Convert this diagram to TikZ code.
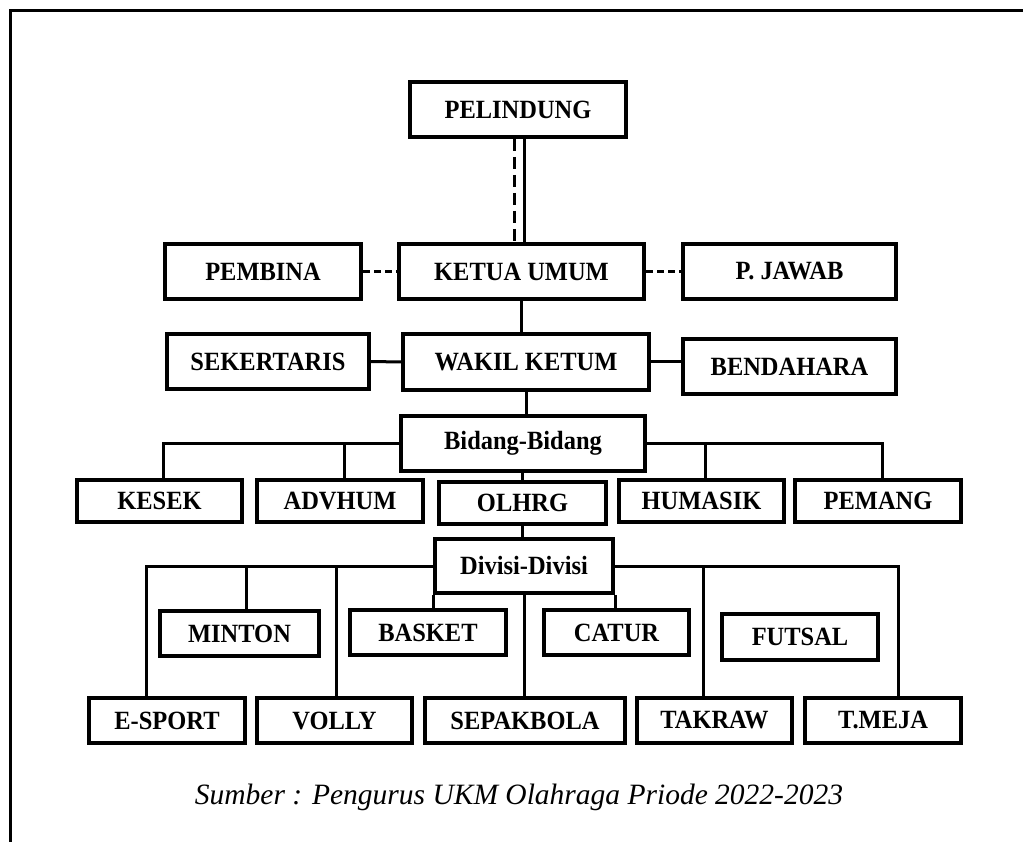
\documentclass[tikz,border=0pt]{standalone}
\usepackage{fontspec}
\setmainfont{Liberation Serif}
\newfontfamily\boxfont[FakeStretch=0.93]{Liberation Serif}
\begin{document}
\begin{tikzpicture}[x=1pt,y=-1pt,
  box/.style={draw, line width=4pt, inner sep=0pt, fill=white,
    font=\boxfont\fontsize{26.3}{28}\selectfont\bfseries},
  conn/.style={line width=3pt},
  dconnh/.style={line width=3pt, dash pattern=on 7pt off 4pt},
  dconnv/.style={line width=3pt, dash pattern=on 12pt off 6pt},
  frame/.style={line width=3pt}]
\useasboundingbox (0,0) rectangle (1023,842);
\draw[frame] (10,842) -- (10,11) -- (1023,11);

\node[box, minimum width=216pt, minimum height=55pt] (pel) at (518,109.5) {PELINDUNG};
\node[box, minimum width=196pt, minimum height=55pt] (pembina) at (263,271.5) {PEMBINA};
\node[box, minimum width=245pt, minimum height=55pt] (ketua) at (521.5,271.5) {KETUA UMUM};
\node[box, minimum width=213pt, minimum height=55pt] (pjawab) at (789.5,271.5) {P. JAWAB};
\node[box, minimum width=202pt, minimum height=55pt] (sek) at (268,361.5) {SEKERTARIS};
\node[box, minimum width=246pt, minimum height=56pt] (wakil) at (526,362) {WAKIL KETUM};
\node[box, minimum width=213pt, minimum height=55pt] (bend) at (789.5,366.5) {BENDAHARA};
\node[box, minimum width=244pt, minimum height=55pt] (bidang) at (523,443.5) {Bidang-Bidang};
\node[box, minimum width=165pt, minimum height=42pt] (kesek) at (159.5,501) {KESEK};
\node[box, minimum width=166pt, minimum height=42pt] (advhum) at (340,501) {ADVHUM};
\node[box, minimum width=167pt, minimum height=42pt] (olhrg) at (522.5,503) {OLHRG};
\node[box, minimum width=165pt, minimum height=42pt] (humasik) at (701.5,501) {HUMASIK};
\node[box, minimum width=166pt, minimum height=42pt] (pemang) at (878,501) {PEMANG};
\node[box, minimum width=178pt, minimum height=54pt] (divisi) at (524,566) {Divisi-Divisi};
\node[box, minimum width=159pt, minimum height=45pt] (minton) at (239.5,633.5) {MINTON};
\node[box, minimum width=156pt, minimum height=45pt] (basket) at (428,632.5) {BASKET};
\node[box, minimum width=145pt, minimum height=45pt] (catur) at (616.5,632.5) {CATUR};
\node[box, minimum width=156pt, minimum height=46pt] (futsal) at (800,637) {FUTSAL};
\node[box, minimum width=156pt, minimum height=45pt] (esport) at (167,720.5) {E-SPORT};
\node[box, minimum width=155pt, minimum height=45pt] (volly) at (334.5,720.5) {VOLLY};
\node[box, minimum width=200pt, minimum height=45pt] (sepak) at (525,720.5) {SEPAKBOLA};
\node[box, minimum width=155pt, minimum height=45pt] (takraw) at (714.5,720.5) {TAKRAW};
\node[box, minimum width=156pt, minimum height=45pt] (tmeja) at (883,720.5) {T.MEJA};

\node[font=\fontsize{29.5}{32}\selectfont\itshape] (caption) at (519,797) {Sumber : Pengurus UKM Olahraga Priode 2022-2023};

% top levels
\draw[conn] ([xshift=6pt]pel.south) -- ([xshift=6pt]pel.south |- ketua.north);
\draw[dconnv] ([xshift=-4pt]pel.south) -- ([xshift=-4pt]pel.south |- ketua.north);
\draw[dconnh] (pembina.east) -- (ketua.west);
\draw[dconnh] (ketua.east) -- (pjawab.west);
\draw[conn] (ketua.south) -- (ketua.south |- wakil.north);
\draw[conn] (sek.east) -- (wakil.west);
\draw[conn] (wakil.east) -- (wakil.east -| bend.west);
\draw[conn] (wakil.south) -- (wakil.south |- bidang.north);

% bidang
\draw[conn] (bidang.west) -| ([xshift=3.5pt]kesek.north);
\draw[conn] ([xshift=4pt]advhum.north) -- ([xshift=4pt]advhum.north |- bidang.west);
\draw[conn] (bidang.east) -| ([xshift=4pt]pemang.north);
\draw[conn] ([xshift=3.5pt]humasik.north) -- ([xshift=3.5pt]humasik.north |- bidang.east);
\draw[conn] (bidang.south -| olhrg.north) -- (olhrg.north);
\draw[conn] (olhrg.south) -- (olhrg.south |- divisi.north);

% divisi
\draw[conn] (divisi.west) -| ([xshift=-21pt]esport.north);
\draw[conn] ([xshift=6.5pt]minton.north) -- ([xshift=6.5pt]minton.north |- divisi.west);
\draw[conn] ([xshift=1.5pt]volly.north) -- ([xshift=1.5pt]volly.north |- divisi.west);
\draw[conn] (divisi.south west) -- (divisi.south west |- basket.north);
\draw[conn] (divisi.south) -- (divisi.south |- sepak.north);
\draw[conn] (divisi.south east) -- (divisi.south east |- catur.north);
\draw[conn] (divisi.east) -| ([xshift=15pt]tmeja.north);
\draw[conn] ([xshift=-11.5pt]takraw.north) -- ([xshift=-11.5pt]takraw.north |- divisi.east);
\end{tikzpicture}
\end{document}
